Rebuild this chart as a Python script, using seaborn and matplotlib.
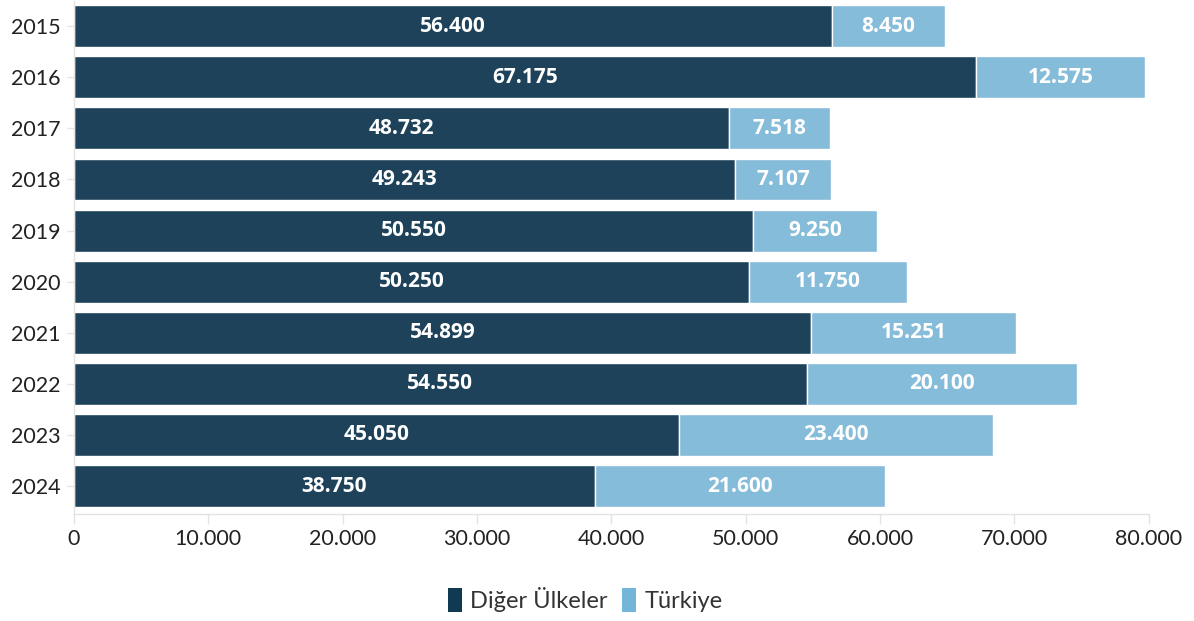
import matplotlib
matplotlib.use("Agg")
import matplotlib.pyplot as plt
from matplotlib.patches import Patch
from matplotlib.ticker import FuncFormatter
import seaborn as sns
import pandas as pd

years = ["2015", "2016", "2017", "2018", "2019", "2020", "2021", "2022", "2023", "2024"]
diger = [56400, 67175, 48732, 49243, 50550, 50250, 54899, 54550, 45050, 38750]
turkiye = [8450, 12575, 7518, 7107, 9250, 11750, 15251, 20100, 23400, 21600]
series_names = ["Diğer Ülkeler", "Türkiye"]

DARK = "#1d4259"
LIGHT = "#84bcda"

def fmt(v):
    return f"{int(round(v)):,}".replace(",", ".")

sns.set_theme(style="white")
plt.rcParams["font.family"] = ["Lato", "DejaVu Sans"]

df = pd.DataFrame({"year": years, "diger": diger, "turkiye": turkiye})

fig = plt.figure(figsize=(11.94, 6.21), dpi=100)
ax = fig.add_axes([0.062, 0.172, 0.9, 0.827])

sns.barplot(data=df, y="year", x="diger", orient="h", color=DARK,
            width=0.82, saturation=1, edgecolor="white", linewidth=1, ax=ax)
ypos = list(range(len(years)))
light = ax.barh(ypos, df["turkiye"], left=df["diger"], height=0.82,
                color=LIGHT, edgecolor="white", linewidth=1)

label_font = dict(color="white", fontsize=15, fontweight="bold",
                  family=["Open Sans", "DejaVu Sans"])
dark = ax.containers[0]
ax.bar_label(dark, labels=[fmt(v) for v in diger], label_type="center", **label_font)
ax.bar_label(light, labels=[fmt(v) for v in turkiye], label_type="center", **label_font)

ax.set_xlim(0, 80000)
ax.set_ylim(9.55, -0.5)
ax.set_xticks(range(0, 80001, 10000))
ax.xaxis.set_major_formatter(FuncFormatter(lambda v, p: fmt(v)))
ax.set_xlabel("")
ax.set_ylabel("")

for s in ["top", "right"]:
    ax.spines[s].set_visible(False)
for s in ["left", "bottom"]:
    ax.spines[s].set_color("#e3e3e3")
    ax.spines[s].set_linewidth(1)
ax.tick_params(axis="x", length=7, width=1, color="#e3e3e3", labelsize=15.5,
               labelcolor="#222222", pad=4, bottom=True)
ax.tick_params(axis="y", length=5, width=1, color="#e3e3e3", labelsize=15.5,
               labelcolor="#222222", pad=5, left=True)

handles = [Patch(facecolor="#0f3a52", edgecolor="none"),
           Patch(facecolor="#74b6da", edgecolor="none")]
fig.legend(handles, series_names, loc="center", bbox_to_anchor=(0.49, 0.035),
           ncol=2, frameon=False, fontsize=17, handlelength=0.6, handleheight=1.2,
           handletextpad=0.35, columnspacing=0.6, labelcolor="#333333")

fig.savefig("out.png", dpi=100, facecolor="white")
